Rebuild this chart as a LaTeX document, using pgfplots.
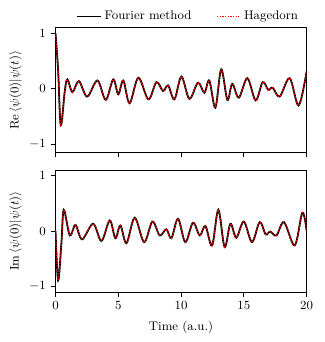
\documentclass[border=0pt]{standalone}
\usepackage{pgfplots}
\pgfplotsset{compat=1.18}
\usepackage{pgfplotstable}

\pgfplotstableread{
t y
0.00 1.00
0.21 0.33
0.42 -0.66
0.74 -0.04
0.95 0.17
1.35 -0.06
1.86 0.14
2.52 -0.14
3.34 0.15
4.00 -0.20
4.60 0.17
5.00 -0.10
5.40 0.15
5.90 -0.26
6.60 0.20
7.40 -0.19
8.04 0.12
8.57 -0.04
8.97 0.06
9.47 -0.19
10.03 0.22
10.66 -0.18
11.35 0.11
11.86 -0.07
12.25 0.15
12.73 -0.34
13.20 0.35
13.69 -0.20
14.08 0.09
14.60 -0.16
15.28 0.19
15.94 -0.21
16.50 0.12
16.95 -0.02
17.30 0.02
17.85 -0.14
18.65 0.19
19.36 -0.30
20.00 0.31
}\redata

% imaginary part
\pgfplotstableread{
t y
0.00 0.00
0.21 -0.89
0.47 -0.22
0.66 0.38
1.14 -0.08
1.59 0.11
2.12 -0.15
3.00 0.13
3.66 -0.18
4.32 0.19
4.77 -0.13
5.17 0.10
5.65 -0.22
6.31 0.24
7.06 -0.20
7.72 0.17
8.30 -0.08
8.83 0.03
9.23 -0.13
9.76 0.22
10.34 -0.20
10.95 0.15
11.49 -0.08
11.94 0.09
12.47 -0.26
12.97 0.38
13.47 -0.29
13.93 0.13
14.40 -0.12
15.00 0.17
15.65 -0.20
16.26 0.16
16.74 -0.06
17.10 -0.01
17.60 -0.08
18.20 0.16
19.05 -0.26
19.66 0.33
20.00 0.01
}\imdata

\pgfplotsset{
  panel/.style={
    scale only axis, width=181pt, height=90pt,
    xmin=0, xmax=20, ymin=-1.15, ymax=1.1,
    xtick={0,5,10,15,20}, ytick={-1,0,1},
    tick align=outside, xtick pos=bottom, ytick pos=left,
    major tick length=3.5pt,
    tick style={black, line width=0.6pt},
    axis line style={line width=0.6pt},
    font=\fontsize{9}{10}\selectfont,
    ylabel style={at={(-0.115,0.5)}},
  },
  fourier/.style={black, line width=1.3pt, smooth, tension=0.55},
  hage/.style={red, line width=0.9pt, densely dotted, smooth, tension=0.55},
}

\begin{document}
\begin{tikzpicture}
\begin{axis}[panel, name=top, xticklabels={},
  ylabel={$\mathrm{Re}\,\langle\psi(0)|\psi(t)\rangle$},
  legend columns=2,
  legend style={at={(0.53,1.0)}, anchor=south, draw=none, fill=none,
    font=\fontsize{9}{10}\selectfont, /tikz/every even column/.append style={column sep=16pt}},
  legend image code/.code={\draw[#1] (0pt,0pt) -- (17pt,0pt);},
]
\addplot[fourier] table[x=t, y=y] {\redata};
\addlegendentry{Fourier method}
\addplot[hage] table[x=t, y=y] {\redata};
\addlegendentry{Hagedorn}
\end{axis}

\begin{axis}[panel, name=bot, at={(top.south west)}, anchor=north west, yshift=-12.5pt,
  height=88pt, ymin=-1.1,
  ylabel={$\mathrm{Im}\,\langle\psi(0)|\psi(t)\rangle$},
  xlabel={Time (a.u.)}, xlabel style={yshift=-1.5pt},
]
\addplot[fourier] table[x=t, y=y] {\imdata};
\addplot[hage] table[x=t, y=y] {\imdata};
\end{axis}

\path ([xshift=-40pt, yshift=20pt]top.north west) rectangle ([xshift=13pt, yshift=-36pt]bot.south east);
\end{tikzpicture}
\end{document}
